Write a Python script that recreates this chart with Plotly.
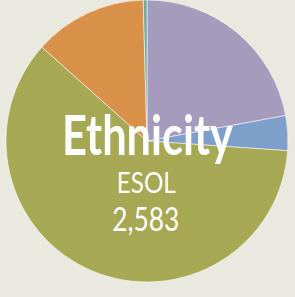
import plotly.graph_objects as go

labels = ["Group A", "Group B", "Group C", "Group D", "Group E"]
values = [571, 103, 1563, 335, 11]
colors = ["#a59bbd", "#7f9fcb", "#a6a853", "#d9914a", "#72a898"]
title_text = "Ethnicity"
sub_text = "ESOL"
total_text = "2,583"

W, H = 295, 297
cx, cy, r = 147, 141, 141

fig = go.Figure(go.Pie(
    labels=labels, values=values, sort=False, direction="clockwise", rotation=0,
    marker=dict(colors=colors, line=dict(color="rgba(255,255,255,0.55)", width=1)),
    textinfo="none", hoverinfo="label+value", showlegend=False,
    domain=dict(x=[(cx - r) / W, (cx + r) / W], y=[(H - cy - r) / H, 1]),
))

font = "Lato, Open Sans, sans-serif"
fig.add_annotation(text=title_text, x=147.5 / W, y=1 - 133.5 / H, xref="paper", yref="paper",
                   showarrow=False, font=dict(family=font, size=56, color="white", weight="bold"),
                   xanchor="center", yanchor="middle")
fig.add_annotation(text=sub_text, x=146.5 / W, y=1 - 181 / H, xref="paper", yref="paper",
                   showarrow=False, font=dict(family=font, size=29, color="white"),
                   xanchor="center", yanchor="middle")
fig.add_annotation(text=total_text, x=145.5 / W, y=1 - 218 / H, xref="paper", yref="paper",
                   showarrow=False, font=dict(family=font, size=32, color="white"),
                   xanchor="center", yanchor="middle")

fig.update_layout(width=W, height=H, margin=dict(l=0, r=0, t=0, b=0),
                  paper_bgcolor="#e9e9e0", plot_bgcolor="#e9e9e0")

post = """
document.body.style.margin = '0';
var gd = document.getElementById('{plot_id}');
var L = [171, 59, 67];
var ts = gd.querySelectorAll('.annotation-text');
for (var i = 0; i < ts.length && i < L.length; i++) {
  ts[i].setAttribute('textLength', L[i]);
  ts[i].setAttribute('lengthAdjust', 'spacingAndGlyphs');
}
"""
fig.write_html("out.html", post_script=post, config={"displayModeBar": False})
